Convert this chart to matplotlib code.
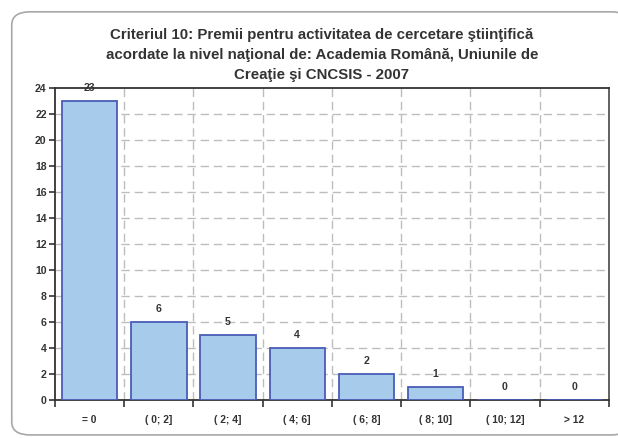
import matplotlib.pyplot as plt
import numpy as np
from matplotlib.patches import FancyBboxPatch

CATEGORIES = ["= 0", "( 0; 2]", "( 2; 4]", "( 4; 6]", "( 6; 8]", "( 8; 10]", "( 10; 12]", "> 12"]
COUNTS = [23, 6, 5, 4, 2, 1, 0, 0]
Y_TICKS = list(range(0, 25, 2))
TITLE = ("Criteriul 10: Premii pentru activitatea de cercetare ştiinţifică\n"
         "acordate la nivel naţional de: Academia Română, Uniunile de\n"
         "Creaţie şi CNCSIS - 2007")

BAR_FACE = "#A6CBEB"
BAR_EDGE = "#4A5DB8"
GRID = "#BDBDBD"

plt.rcParams["font.family"] = ["Liberation Sans", "DejaVu Sans"]

fig = plt.figure(figsize=(6.18, 4.38), dpi=100)

# rounded outer frame of the chart (runs off the right edge, as in the source)
frame = FancyBboxPatch((0.019, 0.007), 1.0, 0.966, boxstyle="round,pad=0,rounding_size=0.03",
                       transform=fig.transFigure, facecolor="white", edgecolor="#A8A8A8",
                       linewidth=1.2, zorder=-5)
fig.patches.append(frame)

ax = fig.add_axes([0.089, 0.0868, 0.896, 0.712])
ax.set_zorder(2)
ax.set_facecolor("none")
x = np.arange(len(CATEGORIES))
ax.bar(x, COUNTS, width=0.8, color=BAR_FACE, edgecolor=BAR_EDGE, linewidth=1.3, zorder=3)
for xi, v in zip(x, COUNTS):
    ax.annotate(str(v), (xi, v), xytext=(0, 5.5), textcoords="offset points",
                ha="center", va="bottom", fontsize=7.6, fontweight="bold", color="#333333",
                zorder=4, annotation_clip=False)

ax.set_xlim(-0.5, len(CATEGORIES) - 0.5)
ax.set_ylim(0, 24)
ax.set_yticks(Y_TICKS)
ax.set_yticklabels([str(t) for t in Y_TICKS], fontsize=7.6, fontweight="bold", color="#333333")
ax.set_xticks(x)
ax.set_xticklabels(CATEGORIES, fontsize=7.4, fontweight="bold", color="#333333")
ax.tick_params(axis="x", which="major", length=0, pad=10.5)
ax.set_xticks(np.arange(-0.5, len(CATEGORIES)), minor=True)
ax.tick_params(axis="x", which="minor", length=5, width=1.2, direction="out", color="#333333")
ax.tick_params(axis="y", length=4, width=1.2, direction="out", color="#333333", pad=2)

ax.grid(False)
for gx in np.arange(0.5, len(CATEGORIES) - 0.5):
    ax.axvline(gx, color=GRID, linewidth=1.0, linestyle=(0, (6, 3.5)), zorder=1)
for gy in Y_TICKS[1:-1]:
    ax.axhline(gy, color=GRID, linewidth=1.0, linestyle=(0, (6, 3.5)), zorder=1)

for side in ["left", "bottom", "top"]:
    ax.spines[side].set_color("#333333")
    ax.spines[side].set_linewidth(1.3)
ax.spines["right"].set_color("#555555")
ax.spines["right"].set_linewidth(1.3)

fig.text(0.521, 0.9355, TITLE, ha="center", va="top", fontsize=10.8, fontweight="bold",
         color="#333333", linespacing=1.52)

fig.savefig("out.png", dpi=100)
